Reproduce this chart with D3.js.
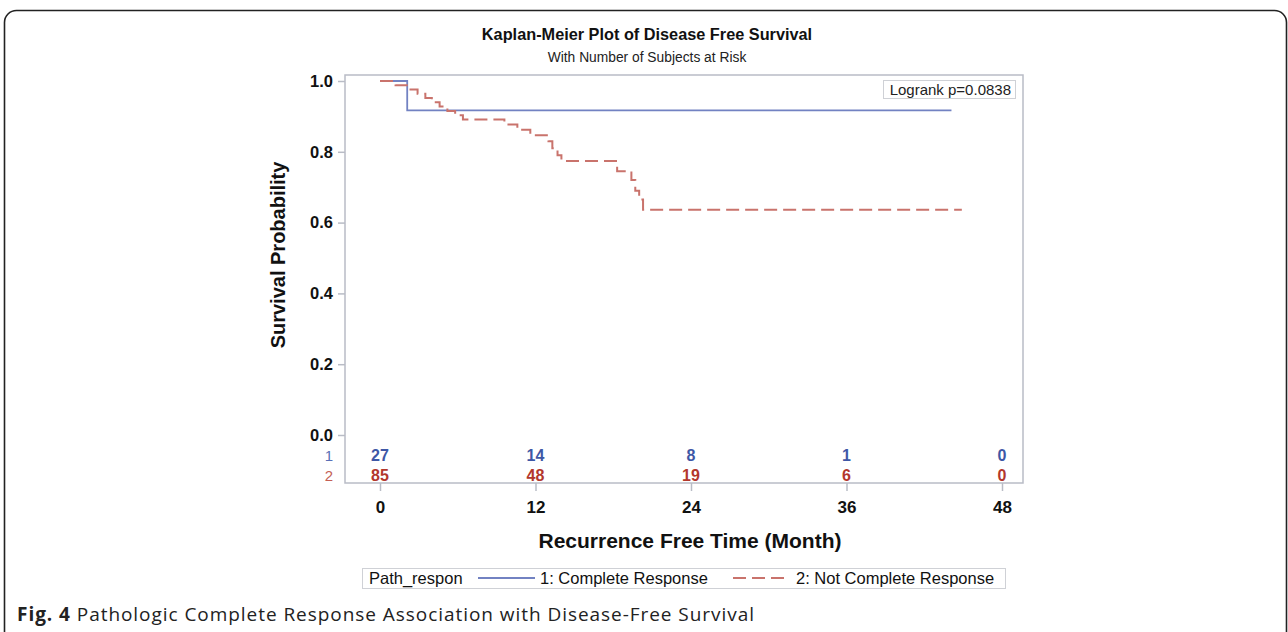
<!DOCTYPE html>
<html>
<head>
<meta charset="utf-8">
<script src="https://cdn.jsdelivr.net/npm/d3@7"></script>
<style>
  body { margin: 0; background: #fff; }
  svg { display: block; }
  text { font-family: "Liberation Sans", Arial, sans-serif; }
  text.caption { font-family: "Open Sans", "Noto Sans", sans-serif; }
</style>
</head>
<body>
<svg id="mainSvg" width="1288" height="632"></svg>
<script>
// * KM step data (months, survival)
let blueTimes = [0, 2.1, 44.1]
let blueSurv = [1, 0.917, 0.917]
let redTimes = [0, 1.2, 2.2, 2.9, 3.5, 4.0, 4.6, 5.2, 5.8, 6.4, 9.6, 10.6, 11.6, 13.0, 13.3, 13.7, 14.0, 18.3, 19.4, 19.7, 20.0, 20.3, 44.9]
let redSurv = [1, 0.988, 0.976, 0.964, 0.952, 0.94, 0.928, 0.915, 0.903, 0.891, 0.877, 0.862, 0.847, 0.83, 0.81, 0.79, 0.774, 0.745, 0.72, 0.69, 0.665, 0.636, 0.636]

let riskTimes = [0, 12, 24, 36, 48]
let riskBlue = [27, 14, 8, 1, 0]
let riskRed = [85, 48, 19, 6, 0]

let xTicks = [0, 12, 24, 36, 48]
let yTicks = [0, 0.2, 0.4, 0.6, 0.8, 1.0]

let blueLine = '#7282c2', redLine = '#c9736c'
let blueText = '#3e57a6', redText = '#b3372c'

let svg = d3.select('#mainSvg')

// outer rounded frame
svg.append('rect')
    .attr('x', 4.5).attr('y', 10.5)
    .attr('width', 1282).attr('height', 660)
    .attr('rx', 12)
    .attr('fill', 'none')
    .attr('stroke', '#222')
    .attr('stroke-width', 1.6)

let box = { left: 345, right: 1023, top: 75, bottom: 483 }

let x = d3.scaleLinear().domain([0, 48]).range([380, 1002])
let y = d3.scaleLinear().domain([0, 1]).range([435, 81])

// titles
svg.append('text')
    .attr('x', 647).attr('y', 40)
    .attr('text-anchor', 'middle')
    .attr('font-size', 16.3).attr('font-weight', 'bold')
    .attr('fill', '#111')
    .text('Kaplan-Meier Plot of Disease Free Survival')

svg.append('text')
    .attr('x', 647).attr('y', 62)
    .attr('text-anchor', 'middle')
    .attr('font-size', 13.8)
    .attr('fill', '#222')
    .text('With Number of Subjects at Risk')

// plot box
svg.append('rect')
    .attr('x', box.left).attr('y', box.top)
    .attr('width', box.right - box.left).attr('height', box.bottom - box.top)
    .attr('fill', 'none')
    .attr('stroke', '#b9bcc6')
    .attr('stroke-width', 1.5)

let yAxis = svg.append('g')
    .attr('transform', 'translate(' + box.left + ',0)')
    .call(d3.axisLeft(y).tickValues(yTicks).tickFormat(d3.format('.1f')).tickSize(7).tickPadding(5))
yAxis.select('.domain').remove()
yAxis.selectAll('line').attr('stroke', '#b9bcc6').attr('stroke-width', 1.5)
yAxis.selectAll('text')
    .attr('font-size', 16.5).attr('font-weight', 'bold').attr('fill', '#111')

let xAxis = svg.append('g')
    .attr('transform', 'translate(0,' + box.bottom + ')')
    .call(d3.axisBottom(x).tickValues(xTicks).tickSize(8).tickPadding(10))
xAxis.select('.domain').remove()
xAxis.selectAll('line').attr('stroke', '#b9bcc6').attr('stroke-width', 1.5)
xAxis.selectAll('text')
    .attr('font-size', 17).attr('font-weight', 'bold').attr('fill', '#111')

svg.append('text')
    .attr('x', 690).attr('y', 548)
    .attr('text-anchor', 'middle')
    .attr('font-size', 21).attr('font-weight', 'bold')
    .attr('fill', '#111')
    .text('Recurrence Free Time (Month)')

svg.append('text')
    .attr('transform', 'translate(285,255) rotate(-90)')
    .attr('text-anchor', 'middle')
    .attr('font-size', 20).attr('font-weight', 'bold')
    .attr('fill', '#111')
    .text('Survival Probability')

// survival curves
let step = d3.line()
    .x(d => x(d[0]))
    .y(d => y(d[1]))
    .curve(d3.curveStepAfter)

svg.append('path')
    .attr('d', step(d3.zip(blueTimes, blueSurv)))
    .attr('fill', 'none')
    .attr('stroke', blueLine)
    .attr('stroke-width', 1.8)

svg.append('path')
    .attr('d', step(d3.zip(redTimes, redSurv)))
    .attr('fill', 'none')
    .attr('stroke', redLine)
    .attr('stroke-width', 2)
    .attr('stroke-dasharray', '13,6')

// logrank inset
svg.append('rect')
    .attr('x', 883.5).attr('y', 80.5)
    .attr('width', 132).attr('height', 18)
    .attr('fill', '#fff')
    .attr('stroke', '#cfd1d6')
svg.append('text')
    .attr('x', 1011).attr('y', 94.5)
    .attr('text-anchor', 'end')
    .attr('font-size', 15)
    .attr('fill', '#222')
    .text('Logrank p=0.0838')

// number at risk rows
let rows = [
    { label: '1', vals: riskBlue, y: 461, c: blueText, lc: '#5a6fb6' },
    { label: '2', vals: riskRed, y: 481, c: redText, lc: '#c45f55' }
]
rows.forEach(function (r) {
    svg.append('text')
        .attr('x', 329).attr('y', r.y)
        .attr('text-anchor', 'middle')
        .attr('font-size', 15)
        .attr('fill', r.lc)
        .text(r.label)

    svg.append('g')
        .selectAll('text')
        .data(riskTimes)
        .enter()
        .append('text')
        .attr('x', d => x(d))
        .attr('y', r.y)
        .attr('text-anchor', 'middle')
        .attr('font-size', 16)
        .attr('font-weight', 'bold')
        .attr('fill', r.c)
        .text((d, i) => r.vals[i])
})

// legend
let lg = svg.append('g')
lg.append('rect')
    .attr('x', 362.5).attr('y', 568.5)
    .attr('width', 643).attr('height', 20)
    .attr('fill', '#fff')
    .attr('stroke', '#cfd1d6')
lg.append('text')
    .attr('x', 369).attr('y', 584)
    .attr('font-size', 16.5).attr('fill', '#111')
    .text('Path_respon')
lg.append('line')
    .attr('x1', 478).attr('x2', 535).attr('y1', 578).attr('y2', 578)
    .attr('stroke', blueLine).attr('stroke-width', 1.8)
lg.append('text')
    .attr('x', 540).attr('y', 584)
    .attr('font-size', 16.5).attr('fill', '#111')
    .text('1: Complete Response')
lg.append('line')
    .attr('x1', 733).attr('x2', 790).attr('y1', 578).attr('y2', 578)
    .attr('stroke', redLine).attr('stroke-width', 1.8)
    .attr('stroke-dasharray', '13,6')
lg.append('text')
    .attr('x', 796).attr('y', 584)
    .attr('font-size', 16.5).attr('fill', '#111')
    .text('2: Not Complete Response')

// caption
let cap = svg.append('text')
    .attr('class', 'caption')
    .attr('x', 17).attr('y', 621)
    .attr('font-size', 19)
    .attr('letter-spacing', 0.95)
    .attr('fill', '#222')
cap.append('tspan').attr('font-weight', 'bold').text('Fig. 4')
cap.append('tspan').text(' Pathologic Complete Response Association with Disease-Free Survival')
</script>
</body>
</html>
